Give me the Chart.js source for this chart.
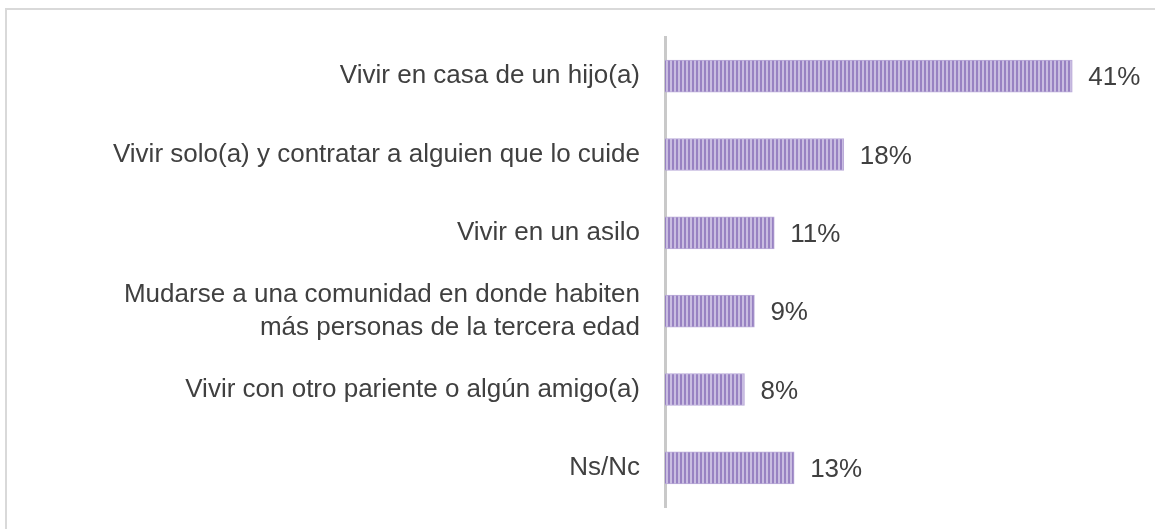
<!DOCTYPE html>
<html>
<head>
<meta charset="utf-8">
<script src="https://cdn.jsdelivr.net/npm/chart.js@4"></script>
<style>
  html, body { margin: 0; padding: 0; background: #fff; }
  body { width: 1155px; height: 529px; position: relative; overflow: hidden; }
  #frame { position: absolute; left: 5px; top: 8px; width: 1300px; height: 700px;
           border-left: 2px solid #d9d9d9; border-top: 2px solid #d9d9d9; }
  #wrap { position: absolute; left: 0; top: 0; width: 1155px; height: 529px; }
</style>
</head>
<body>
<div id="frame"></div>
<div id="wrap"><canvas id="c" width="1155" height="529"></canvas></div>
<script>
const categories = [
  "Vivir en casa de un hijo(a)",
  "Vivir solo(a) y contratar a alguien que lo cuide",
  "Vivir en un asilo",
  ["Mudarse a una comunidad en donde habiten", "más personas de la tercera edad"],
  "Vivir con otro pariente o algún amigo(a)",
  "Ns/Nc"
];
const values = [41, 18, 11, 9, 8, 13];
const valueLabels = ["41%", "18%", "11%", "9%", "8%", "13%"];

// striped pattern
const pc = document.createElement('canvas');
pc.width = 4; pc.height = 4;
const pctx = pc.getContext('2d');
pctx.fillStyle = '#c9bde1'; pctx.fillRect(0, 0, 4, 4);
pctx.fillStyle = '#9882c2'; pctx.fillRect(0, 0, 2, 4);
const pattern = document.createElement('canvas').getContext('2d').createPattern(pc, 'repeat');

const FONT = "'Liberation Sans', Arial, sans-serif";

const valueLabelPlugin = {
  id: 'valueLabels',
  afterDatasetsDraw(chart) {
    const ctx = chart.ctx;
    const meta = chart.getDatasetMeta(0);
    ctx.save();
    ctx.font = "26px " + FONT;
    ctx.fillStyle = '#404040';
    ctx.textAlign = 'left';
    ctx.textBaseline = 'middle';
    meta.data.forEach((bar, i) => {
      ctx.fillText(valueLabels[i], bar.x + 16, bar.y + 2);
    });
    ctx.restore();
  }
};

new Chart(document.getElementById('c'), {
  type: 'bar',
  data: {
    labels: categories,
    datasets: [{
      data: values,
      backgroundColor: pattern,
      borderColor: '#b9a9d8',
      borderWidth: 1,
      borderSkipped: 'left',
      barThickness: 32
    }]
  },
  options: {
    indexAxis: 'y',
    responsive: false,
    animation: false,
    layout: { padding: { left: 6, right: 43, top: 37, bottom: 22 } },
    plugins: { legend: { display: false }, tooltip: { enabled: false } },
    scales: {
      x: { display: false, min: 0, max: 45 },
      y: {
        grid: { display: false },
        border: { display: true, color: '#c9c9c9', width: 3 },
        ticks: {
          color: '#404040',
          font: { family: FONT, size: 26, lineHeight: 1.27 },
          padding: 17
        },
        afterFit(scale) {
          scale.width = 659;
          scale.paddingTop = 0;
          scale.paddingBottom = 0;
        }
      }
    }
  },
  plugins: [valueLabelPlugin]
});
</script>
</body>
</html>
